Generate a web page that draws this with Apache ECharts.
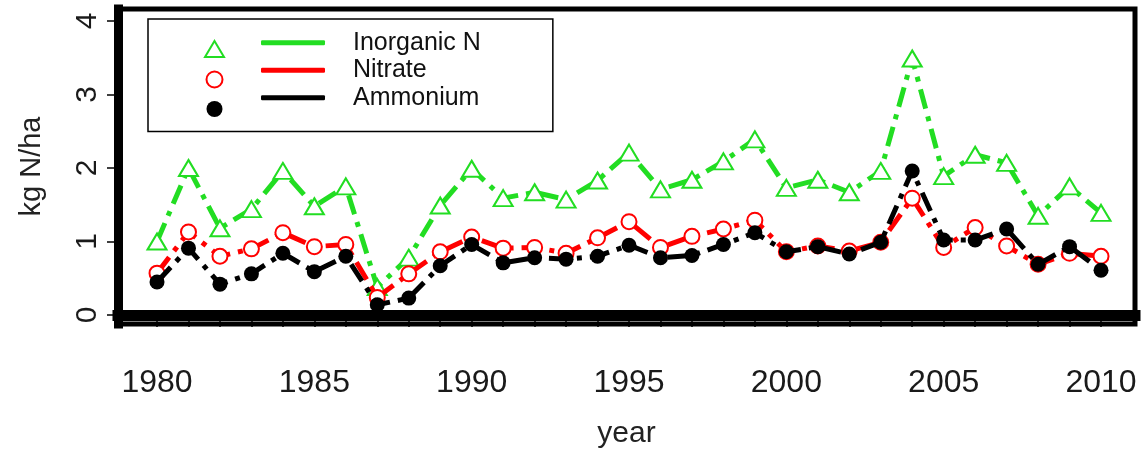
<!DOCTYPE html>
<html>
<head>
<meta charset="utf-8">
<title>Inorganic N deposition</title>
<script src="https://cdn.jsdelivr.net/npm/echarts@6/dist/echarts.min.js"></script>
<style>
  html, body { margin: 0; padding: 0; background: #fff; }
  #chart { width: 1143px; height: 454px; }
</style>
</head>
<body>
<div id="chart"></div>
<script>
// years on the x axis
const years = [1980, 1981, 1982, 1983, 1984, 1985, 1986, 1987, 1988, 1989,
    1990, 1991, 1992, 1993, 1994, 1995, 1996, 1997, 1998, 1999,
    2000, 2001, 2002, 2003, 2004, 2005, 2006, 2007, 2008, 2009, 2010];

// kg N/ha
const inorganicN = [1.0, 2.0, 1.18, 1.44, 1.96, 1.48, 1.75, 0.38, 0.78, 1.49,
    1.99, 1.59, 1.67, 1.57, 1.83, 2.21, 1.71, 1.84, 2.09, 2.39,
    1.73, 1.84, 1.67, 1.96, 3.49, 1.89, 2.18, 2.07, 1.35, 1.75, 1.39];
const nitrate = [0.57, 1.13, 0.8, 0.9, 1.12, 0.93, 0.96, 0.24, 0.56, 0.86,
    1.06, 0.91, 0.92, 0.84, 1.05, 1.27, 0.92, 1.07, 1.17, 1.29,
    0.86, 0.94, 0.87, 0.99, 1.59, 0.92, 1.19, 0.94, 0.69, 0.84, 0.8];
const ammonium = [0.45, 0.91, 0.42, 0.56, 0.84, 0.59, 0.8, 0.14, 0.23, 0.67,
    0.96, 0.71, 0.78, 0.76, 0.8, 0.95, 0.78, 0.81, 0.96, 1.12,
    0.86, 0.93, 0.83, 0.99, 1.96, 1.02, 1.02, 1.17, 0.69, 0.93, 0.61];

// tick labels
const xTickYears = years;
const xLabelYears = [1980, 1985, 1990, 1995, 2000, 2005, 2010];
const yLabelValues = [0, 1, 2, 3, 4];

const seriesNames = ["Inorganic N", "Nitrate", "Ammonium"];

const FONT = "Liberation Sans, Arial, sans-serif";
const dashDot = [20, 8, 5, 8];

function pairs(values) {
    return years.map((y, i) => [y, values[i]]);
}

var chart = echarts.init(document.getElementById("chart"));

var option = {
    backgroundColor: "#fff",
    animation: false,
    textStyle: { fontFamily: FONT },
    grid: {
        left: 118, top: 9, right: 8, bottom: 129,
        show: true, borderColor: "#000", borderWidth: 5
    },
    xAxis: {
        type: "value",
        min: 1978.76,
        max: 2011.08,
        name: "year",
        nameLocation: "middle",
        nameGap: 95,
        nameTextStyle: { fontSize: 30, color: "#222", fontFamily: FONT },
        axisLine: { show: true, lineStyle: { color: "#000", width: 11, cap: "square" } },
        axisTick: {
            show: true, length: 12, inside: false,
            customValues: xTickYears,
            lineStyle: { color: "#000", width: 1.5 }
        },
        axisLabel: {
            customValues: xLabelYears,
            formatter: function (v) { return String(v); },
            margin: 43, fontSize: 32, color: "#1a1a1a", fontFamily: FONT
        },
        splitLine: { show: false }
    },
    yAxis: {
        type: "value",
        min: -0.122,
        max: 4.163,
        name: "kg N/ha",
        nameLocation: "middle",
        nameRotate: 90,
        nameGap: 72,
        nameTextStyle: { fontSize: 29, color: "#222", fontFamily: FONT },
        axisLine: { show: true, lineStyle: { color: "#000", width: 9, cap: "square" } },
        axisTick: {
            show: true, length: 11,
            customValues: yLabelValues,
            lineStyle: { color: "#000", width: 1.5 }
        },
        axisLabel: {
            customValues: yLabelValues,
            rotate: 90, margin: 15, fontSize: 30, color: "#1a1a1a", fontFamily: FONT
        },
        splitLine: { show: false }
    },
    legend: [
        {
            // marker column
            left: 199, top: 35, orient: "vertical",
            itemWidth: 19, itemHeight: 16, itemGap: 12.5,
            selectedMode: false,
            data: [
                { name: seriesNames[0], icon: "emptyTriangle" },
                { name: seriesNames[1], icon: "emptyCircle" },
                { name: seriesNames[2], icon: "circle" }
            ],
            formatter: function () { return ""; },
            textStyle: { fontSize: 1 }
        },
        {
            // line column with the framed box
            left: 148, top: 19, orient: "vertical",
            padding: [10, 72, 20, 113],
            borderColor: "#000", borderWidth: 1.5,
            itemWidth: 64, itemHeight: 5, itemGap: 0,
            selectedMode: false,
            icon: "roundRect",
            data: seriesNames,
            textStyle: {
                fontSize: 25, lineHeight: 27.5, color: "#111",
                fontFamily: FONT, padding: [0, 0, 0, 23]
            }
        }
    ],
    series: [
        {
            name: seriesNames[0], type: "line",
            data: pairs(inorganicN),
            symbol: "emptyTriangle", symbolSize: [19, 16],
            itemStyle: { color: "#22dd22", borderWidth: 1.5 },
            lineStyle: { color: "#22dd22", width: 5, type: dashDot },
            z: 2
        },
        {
            name: seriesNames[1], type: "line",
            data: pairs(nitrate),
            symbol: "emptyCircle", symbolSize: 15,
            itemStyle: { color: "#ff0000", borderWidth: 1.5 },
            lineStyle: { color: "#ff0000", width: 5, type: dashDot },
            z: 3
        },
        {
            name: seriesNames[2], type: "line",
            data: pairs(ammonium),
            symbol: "circle", symbolSize: 15,
            itemStyle: { color: "#000" },
            lineStyle: { color: "#000", width: 5, type: dashDot },
            z: 4
        }
    ]
};

chart.setOption(option);
</script>
</body>
</html>
